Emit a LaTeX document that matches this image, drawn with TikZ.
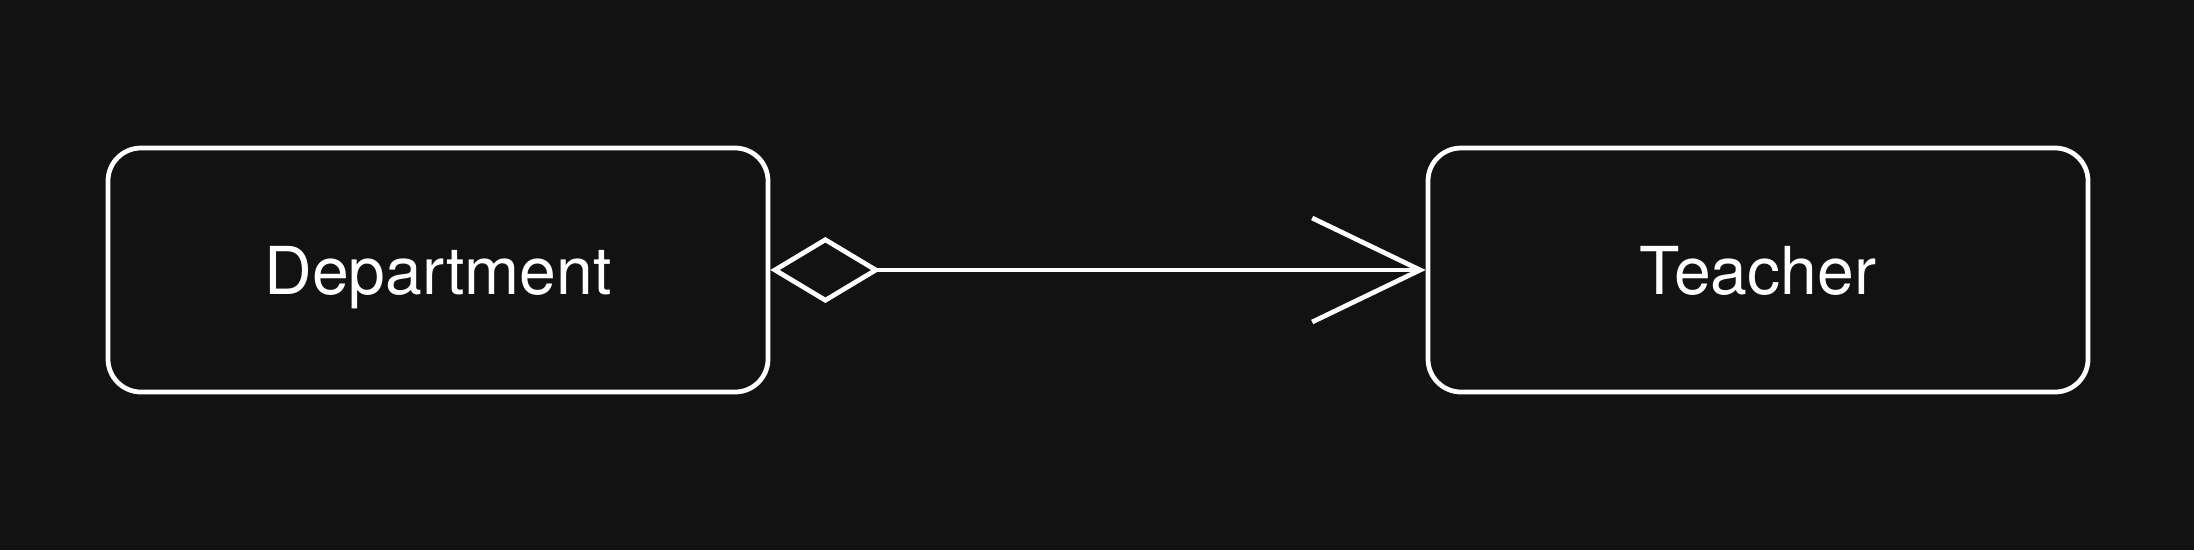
\documentclass[tikz,border=0pt]{standalone}
\usepackage{fontspec}
\setmainfont{TeX Gyre Heros}
\usepackage{xcolor}
\usetikzlibrary{positioning,arrows.meta}
\definecolor{bgdark}{RGB}{18,18,18}

\begin{document}
\begin{tikzpicture}[
          x=1cm, y=1cm,
          cls/.style={draw=white, line width=1.35pt, rounded corners=3.3mm,
                      minimum width=6.6cm, minimum height=2.44cm, text depth=0pt,
                      text=white, font=\fontsize{18.8}{22}\selectfont},
          agg/.style={draw=white, line width=1.35pt,
                      {Diamond[open, length=11.0mm, width=6.6mm]}-{Straight Barb[length=10.8mm, width=10.4mm]}}
      ]
        \fill[bgdark] (0,0) rectangle (21.94,5.50);
        \useasboundingbox (0,0) rectangle (21.94,5.50);
        \node[cls] (dept) at (4.38,2.80) {Department};
        \node[cls] (teacher) at (17.58,2.80) {Teacher};
        \draw[agg] (dept) -- (teacher);
      \end{tikzpicture}
\end{document}
